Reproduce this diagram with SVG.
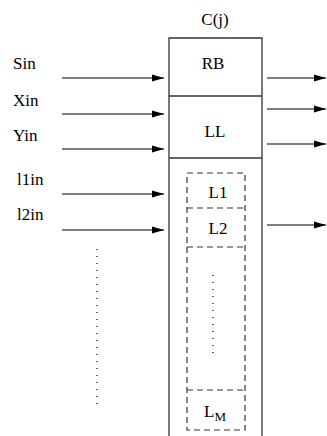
<svg xmlns="http://www.w3.org/2000/svg" width="327" height="436" viewBox="0 0 327 436">
<style>
text{font-family:"Liberation Serif","Times New Roman",serif;font-size:17px;fill:#000}
.c{text-anchor:middle}
.ln{stroke:#000;stroke-width:1.2;fill:none}
.box{stroke:#333;stroke-width:1.3;fill:#fff}
.dash{stroke:#333;stroke-width:1.2;fill:none;stroke-dasharray:6,4}
.dot{stroke:#000;stroke-width:1.2;fill:none;stroke-dasharray:1,6}
</style>
<defs>
<marker id="ah" markerWidth="12" markerHeight="8" refX="12" refY="4" orient="auto" markerUnits="userSpaceOnUse">
<path d="M0,0.5 L12,4 L0,7.5 Z" fill="#000"/>
</marker>
</defs>
<g id="cj">
<text class="c" x="215" y="25">C(j)</text>
<path class="box" d="M169,436 V38 H262 V436"/>
</g>
<g id="rb">
<line class="box" x1="169" y1="96" x2="262" y2="96"/>
<text class="c" x="213" y="69">RB</text>
</g>
<g id="ll">
<line class="box" x1="169" y1="158" x2="262" y2="158"/>
<text class="c" x="215" y="137">LL</text>
</g>
<g id="lbox">
<rect class="dash" x="187" y="173" width="58" height="257"/>
<line class="dash" x1="187" y1="208" x2="245" y2="208"/>
<line class="dash" x1="187" y1="247" x2="245" y2="247"/>
<line class="dash" x1="187" y1="390" x2="245" y2="390"/>
<text class="c" x="218" y="198">L1</text>
<text class="c" x="218" y="234">L2</text>
<line class="dot" x1="213" y1="275" x2="213" y2="356"/>
<text x="204" y="417">L<tspan font-size="13" dy="4">M</tspan></text>
</g>
<g id="inputs">
<text x="13" y="69">Sin</text>
<text x="13" y="105.5">Xin</text>
<text x="13" y="141">Yin</text>
<text x="17" y="185">l1in</text>
<text x="17" y="220">l2in</text>
<line class="dot" x1="97" y1="249" x2="97" y2="408"/>
</g>
<g id="connectors">
<line class="ln" x1="62" y1="78" x2="164" y2="78" marker-end="url(#ah)"/>
<line class="ln" x1="62" y1="114" x2="164" y2="114" marker-end="url(#ah)"/>
<line class="ln" x1="62" y1="149" x2="164" y2="149" marker-end="url(#ah)"/>
<line class="ln" x1="62" y1="194" x2="164" y2="194" marker-end="url(#ah)"/>
<line class="ln" x1="62" y1="230" x2="164" y2="230" marker-end="url(#ah)"/>
<line class="ln" x1="267" y1="78" x2="326" y2="78" marker-end="url(#ah)"/>
<line class="ln" x1="267" y1="109" x2="326" y2="109" marker-end="url(#ah)"/>
<line class="ln" x1="267" y1="144" x2="326" y2="144" marker-end="url(#ah)"/>
<line class="ln" x1="267" y1="225" x2="326" y2="225" marker-end="url(#ah)"/>
</g>
</svg>
